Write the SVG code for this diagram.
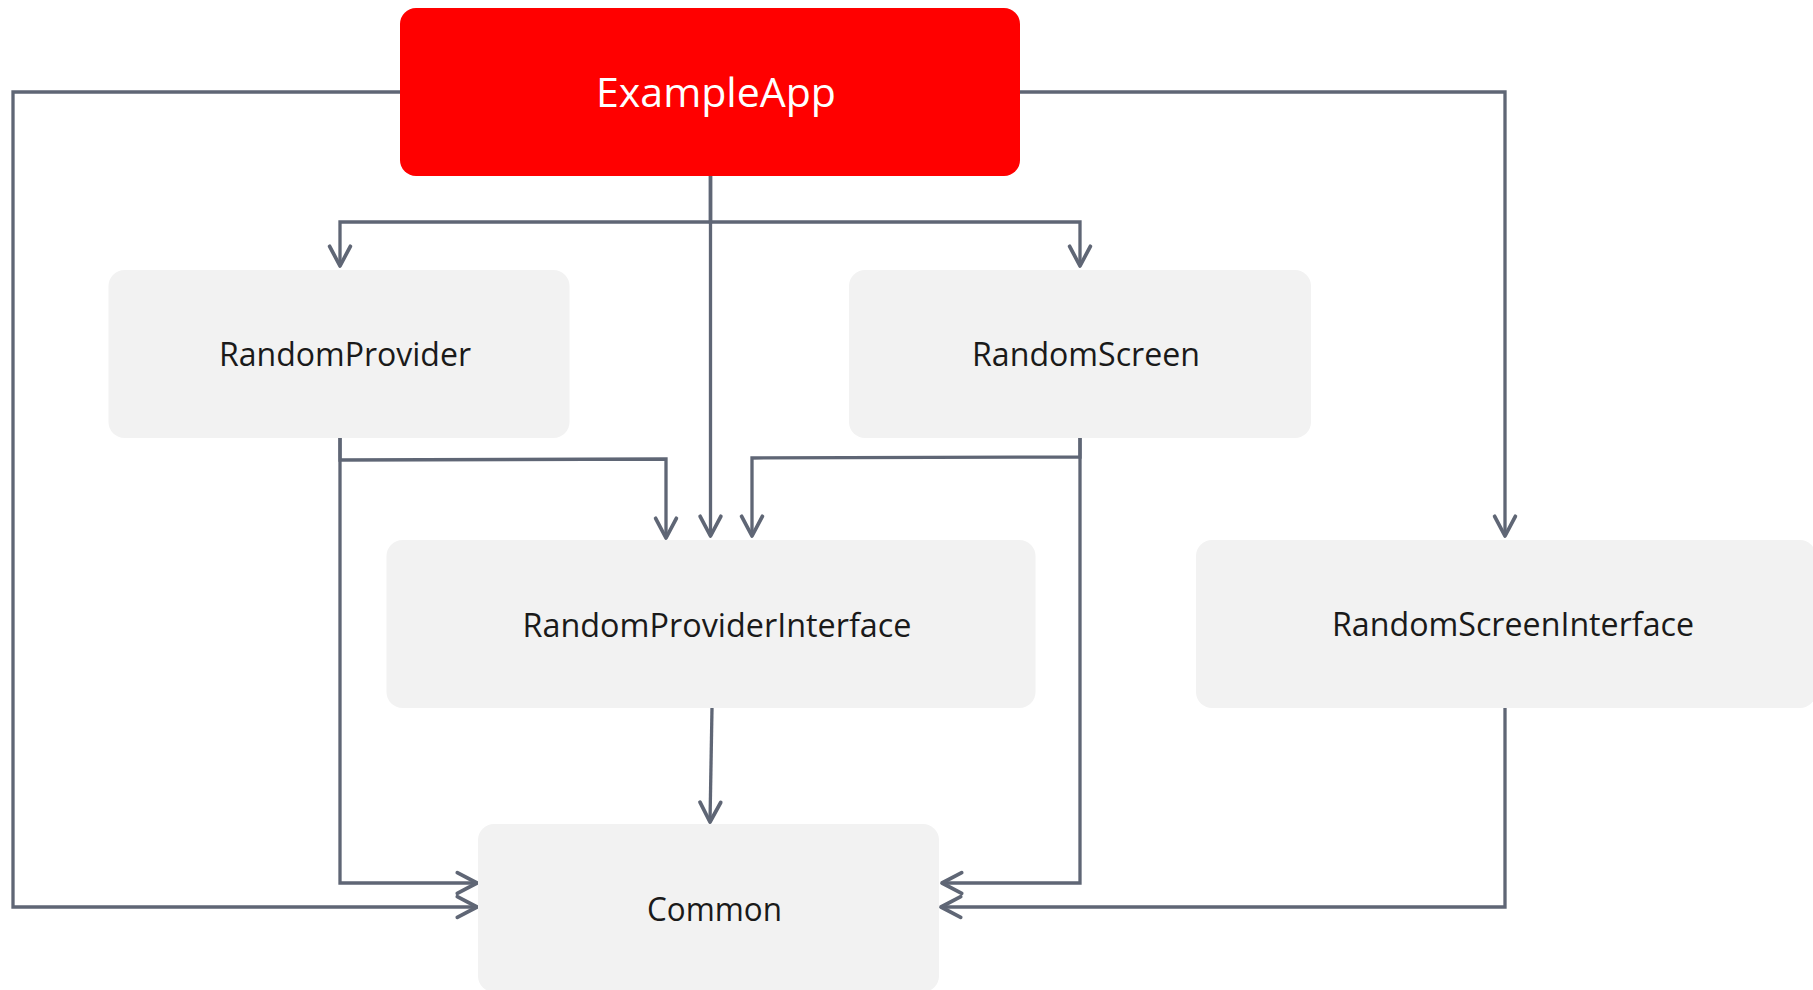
<svg xmlns="http://www.w3.org/2000/svg" width="1813" height="990" viewBox="0 0 1813 990">
  <defs>
    <marker id="arrow" markerUnits="userSpaceOnUse" markerWidth="28" markerHeight="28" viewBox="-3 -13 27 26" refX="20" refY="0" orient="auto">
      <path d="M1,-10 L20,0 L1,10" fill="none" stroke="#5f6675" stroke-width="3.6" stroke-linejoin="round" stroke-linecap="round"/>
    </marker>
    <style>
      .box { fill: #f2f2f2; }
      .main { fill: #ff0000; }
      .label { font-family: "Open Sans", "Liberation Sans", sans-serif; font-size: 32px; fill: #1a1a1a; text-anchor: middle; }
      .title { font-family: "Open Sans", "Liberation Sans", sans-serif; font-size: 41px; fill: #ffffff; text-anchor: middle; }
      .edge { fill: none; stroke: #5f6675; stroke-width: 3.3; marker-end: url(#arrow); }
    </style>
  </defs>

  <rect width="1813" height="990" fill="#ffffff"/>

  <!-- dependency connectors -->
  <g id="connectors">
    <path class="edge" d="M400,92 H13 V907 H477"/>
    <path class="edge" d="M1020,92 H1505 V536"/>
    <path class="edge" d="M710.5,176 V222 H340 V266"/>
    <path class="edge" d="M710.5,176 V222 H1080 V266"/>
    <path class="edge" d="M710.5,176 V536"/>
    <path class="edge" d="M340,438 V460 L666,459 V538"/>
    <path class="edge" d="M340,438 V883 H477"/>
    <path class="edge" d="M1080,438 V457 L752,458 V536"/>
    <path class="edge" d="M1080,438 V883 H942"/>
    <path class="edge" d="M712,708 L710,822"/>
    <path class="edge" d="M1505,708 V907 H941"/>
  </g>

  <g id="node-exampleapp">
    <rect class="main" x="400" y="8" width="620" height="168" rx="16"/>
    <text class="title" x="716" y="107" textLength="240" lengthAdjust="spacingAndGlyphs">ExampleApp</text>
  </g>

  <g id="node-randomprovider">
    <rect class="box" x="108.5" y="270" width="461" height="168" rx="16"/>
    <text class="label" x="345" y="366" textLength="252" lengthAdjust="spacingAndGlyphs">RandomProvider</text>
  </g>

  <g id="node-randomscreen">
    <rect class="box" x="849" y="270" width="462" height="168" rx="16"/>
    <text class="label" x="1086" y="366" textLength="228" lengthAdjust="spacingAndGlyphs">RandomScreen</text>
  </g>

  <g id="node-randomproviderinterface">
    <rect class="box" x="386.5" y="540" width="649" height="168" rx="16"/>
    <text class="label" x="717" y="637" textLength="389" lengthAdjust="spacingAndGlyphs">RandomProviderInterface</text>
  </g>

  <g id="node-randomscreeninterface">
    <rect class="box" x="1196" y="540" width="620" height="168" rx="16"/>
    <text class="label" x="1513" y="636" textLength="362" lengthAdjust="spacingAndGlyphs">RandomScreenInterface</text>
  </g>

  <g id="node-common">
    <rect class="box" x="478" y="824" width="461" height="168" rx="16"/>
    <text class="label" x="714.5" y="921" textLength="135" lengthAdjust="spacingAndGlyphs">Common</text>
  </g>
</svg>
